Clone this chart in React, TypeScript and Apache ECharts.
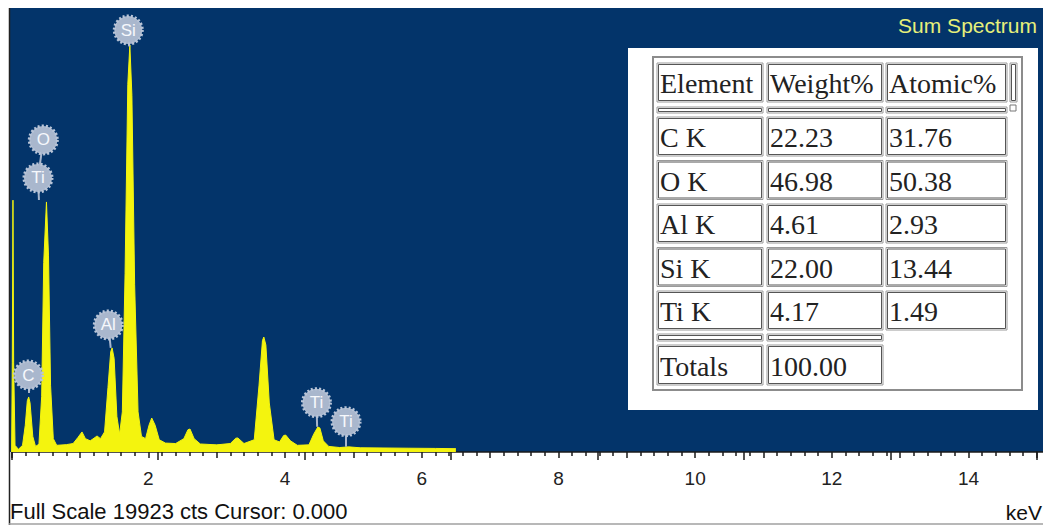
import React, { useEffect, useRef } from 'react';
import * as echarts from 'echarts';

// Spectrum trace: [keV, counts]
const spectrum: [number, number][] = [
  [0.0, 0], [0.01, 4000], [0.02, 11300], [0.03, 4000], [0.05, 300], [0.1, 120],
  [0.16, 300], [0.2, 1200], [0.23, 2300], [0.25, 2470], [0.27, 2200], [0.31, 700],
  [0.35, 250], [0.4, 350], [0.44, 2500], [0.47, 8500], [0.51, 11220], [0.54, 8800],
  [0.57, 3000], [0.61, 600], [0.66, 300], [0.8, 330], [0.9, 380], [0.97, 650],
  [1.03, 900], [1.08, 600], [1.15, 500], [1.22, 650], [1.25, 720], [1.3, 600],
  [1.36, 900], [1.41, 2900], [1.45, 4500], [1.47, 4670], [1.5, 4200], [1.54, 1600],
  [1.58, 800], [1.62, 1800], [1.66, 8000], [1.7, 16500], [1.73, 18260], [1.76, 16000],
  [1.8, 7500], [1.85, 1800], [1.9, 700], [1.96, 600], [2.01, 1200], [2.05, 1525],
  [2.1, 1200], [2.16, 550], [2.25, 400], [2.4, 380], [2.52, 600], [2.58, 1000],
  [2.61, 1030], [2.67, 600], [2.76, 360], [3.0, 320], [3.2, 380], [3.28, 620],
  [3.31, 630], [3.4, 380], [3.55, 550], [3.62, 3000], [3.67, 5000], [3.69, 5160],
  [3.72, 4800], [3.77, 2200], [3.84, 550], [3.92, 450], [3.98, 740], [4.01, 760],
  [4.08, 500], [4.18, 300], [4.35, 320], [4.42, 800], [4.48, 1120], [4.51, 1080],
  [4.56, 500], [4.64, 250], [4.8, 200], [4.93, 230], [5.1, 190], [5.8, 170],
  [6.2, 160], [6.5, 150],
];

// Element badges
const badgeNames = ['Si', 'O', 'Ti', 'Al', 'C', 'Ti', 'Ti'];
const badgeKeV = [1.707, 0.464, 0.386, 1.415, 0.245, 4.46, 4.893];
const badgeCts = [18935, 14000, 12295, 5700, 3455, 2212, 1360];

// Leader lines: from [keV, cts] to [keV, cts]
const leaderFrom: [number, number][] = [
  [1.707, 18935], [0.464, 14000], [0.386, 12295], [1.415, 5700], [0.245, 3455], [4.46, 2212], [4.893, 1360],
];
const leaderTo: [number, number][] = [
  [1.72, 18200], [0.386, 12295], [0.4, 11307], [1.45, 4670], [0.25, 2650], [4.47, 1135], [4.893, 238],
];

// Quantification table
const tableHeader = ['Element', 'Weight%', 'Atomic%'];
const tableElements = ['C K', 'O K', 'Al K', 'Si K', 'Ti K'];
const tableWeight = ['22.23', '46.98', '4.61', '22.00', '4.17'];
const tableAtomic = ['31.76', '50.38', '2.93', '13.44', '1.49'];
const totalsLabel = 'Totals';
const totalsWeight = '100.00';

const fullScaleText = 'Full Scale 19923 cts Cursor: 0.000';
const titleText = 'Sum Spectrum';
const unitText = 'keV';

const BLUE = '#03346a';
const YELLOW = '#f4f40e';
const BADGE = '#a9b7cd';

function buildTable() {
  const els: any[] = [];
  const colX = [657, 767, 886];
  const colW = [106, 116, 121];
  const font = { fontFamily: '"Liberation Serif", serif', fontSize: 28, fill: '#222' };
  els.push({ type: 'rect', shape: { x: 628, y: 48, width: 410, height: 362 }, style: { fill: '#ffffff' }, z: 10 });
  els.push({ type: 'rect', shape: { x: 653, y: 57, width: 369, height: 333 }, style: { fill: 'none', stroke: '#8c8c8c', lineWidth: 2 }, z: 11 });
  const cell = (x: number, y: number, w: number, h: number, text?: string) => {
    els.push({ type: 'rect', shape: { x, y, width: w, height: h }, style: { fill: '#fff', stroke: '#9a9a9a', lineWidth: 1 }, z: 11 });
    els.push({ type: 'rect', shape: { x: x + 1.5, y: y + 1.5, width: w - 3, height: h - 3 }, style: { fill: 'none', stroke: '#555', lineWidth: 1 }, z: 11 });
    if (text) {
      els.push({ type: 'text', x: x + 3, y: y + h / 2 + 1, style: { ...font, text, verticalAlign: 'middle', align: 'left' }, z: 12 });
    }
  };
  tableHeader.forEach((t, i) => cell(colX[i], 63, colW[i], 39, t));
  cell(1010, 63, 7, 39);
  els.push({ type: 'rect', shape: { x: 1010, y: 105, width: 6, height: 6 }, style: { fill: '#fff', stroke: '#777', lineWidth: 1 }, z: 11 });
  for (let i = 0; i < 3; i++) cell(colX[i], 107, colW[i], 6);
  tableElements.forEach((el, r) => {
    const y = 117 + r * 43.5;
    cell(colX[0], y, colW[0], 39, el);
    cell(colX[1], y, colW[1], 39, tableWeight[r]);
    cell(colX[2], y, colW[2], 39, tableAtomic[r]);
  });
  for (let i = 0; i < 2; i++) cell(colX[i], 334, colW[i], 7);
  cell(colX[0], 345, colW[0], 40, totalsLabel);
  cell(colX[1], 345, colW[1], 40, totalsWeight);
  return els;
}

export default function App() {
  const ref = useRef<HTMLDivElement>(null);
  useEffect(() => {
    if (!ref.current) return;
    const chart = echarts.init(ref.current, null, { renderer: 'svg' });
    const sans = '"Liberation Sans", Arial, sans-serif';
    const tickStyle = { color: '#1a1a1a', width: 1.5 };
    const option: any = {
      animation: false,
      backgroundColor: '#ffffff',
      grid: { left: 11.6, right: 6.1, top: 8, bottom: 73, containLabel: false },
      xAxis: [
        {
          type: 'value', min: 0, max: 15, interval: 1, position: 'bottom',
          axisLine: { show: true, onZero: false, lineStyle: tickStyle },
          axisTick: { show: true, length: 6, lineStyle: tickStyle },
          minorTick: { show: true, splitNumber: 5, length: 4, lineStyle: tickStyle },
          axisLabel: {
            show: true, margin: 17, fontSize: 19, color: '#222', fontFamily: sans,
            formatter: (v: number) => (v > 0 && Math.round(v) % 2 === 0 ? String(Math.round(v)) : ''),
          },
          splitLine: { show: false },
        },
        {
          type: 'value', min: 0, max: 14, interval: 2, position: 'bottom',
          axisLine: { show: false },
          axisTick: { show: true, length: 8, lineStyle: tickStyle },
          axisLabel: { show: false },
          splitLine: { show: false },
        },
      ],
      yAxis: { type: 'value', min: 0, max: 19923, show: false, splitLine: { show: false } },
      graphic: {
        elements: [
          { type: 'rect', shape: { x: 9, y: 8, width: 1034, height: 444 }, style: { fill: BLUE }, z: -10 },
          { type: 'line', shape: { x1: 1036, y1: 452, x2: 1043, y2: 452 }, style: { stroke: '#1a1a1a', lineWidth: 1.5 }, z: 5 },
          { type: 'line', shape: { x1: 9.5, y1: 8, x2: 9.5, y2: 525 }, style: { stroke: '#222', lineWidth: 1.5 }, z: 5 },
          { type: 'line', shape: { x1: 9, y1: 524, x2: 1043, y2: 524 }, style: { stroke: '#a0a0a0', lineWidth: 1.5 }, z: 5 },
          { type: 'text', x: 1037, y: 25, style: { text: titleText, fontFamily: sans, fontSize: 21, fill: '#e6f07a', align: 'right', verticalAlign: 'middle' }, z: 12 },
          { type: 'text', x: 10, y: 511, style: { text: fullScaleText, fontFamily: sans, fontSize: 22, fill: '#111', align: 'left', verticalAlign: 'middle' }, z: 12 },
          { type: 'text', x: 1042, y: 512, style: { text: unitText, fontFamily: sans, fontSize: 21, fill: '#111', align: 'right', verticalAlign: 'middle' }, z: 12 },
          ...buildTable(),
        ],
      },
      series: [
        {
          type: 'line', data: spectrum, showSymbol: false, symbol: 'none', smooth: false,
          lineStyle: { color: YELLOW, width: 1 }, areaStyle: { color: YELLOW, opacity: 1 }, z: 2,
        },
        {
          type: 'lines', coordinateSystem: 'cartesian2d', xAxisIndex: 0, yAxisIndex: 0,
          data: leaderFrom.map((f, i) => ({ coords: [f, leaderTo[i]] })),
          lineStyle: { color: BADGE, width: 2, opacity: 1 }, z: 3,
        },
        {
          type: 'scatter', xAxisIndex: 0, yAxisIndex: 0,
          data: badgeNames.map((n, i) => ({ name: n, value: [badgeKeV[i], badgeCts[i]] })),
          symbol: 'circle', symbolSize: 28,
          itemStyle: { color: BADGE, borderColor: '#b9c5d8', borderWidth: 3, borderType: [2, 2], opacity: 1 },
          label: { show: true, position: 'inside', formatter: '{b}', color: '#f6f8fc', fontSize: 17, fontFamily: sans },
          z: 4,
        },
      ],
    };
    chart.setOption(option);
    return () => chart.dispose();
  }, []);
  return <div ref={ref} style={{ position: 'absolute', left: 0, top: 0, width: 1043, height: 525, background: '#fff' }} />;
}
